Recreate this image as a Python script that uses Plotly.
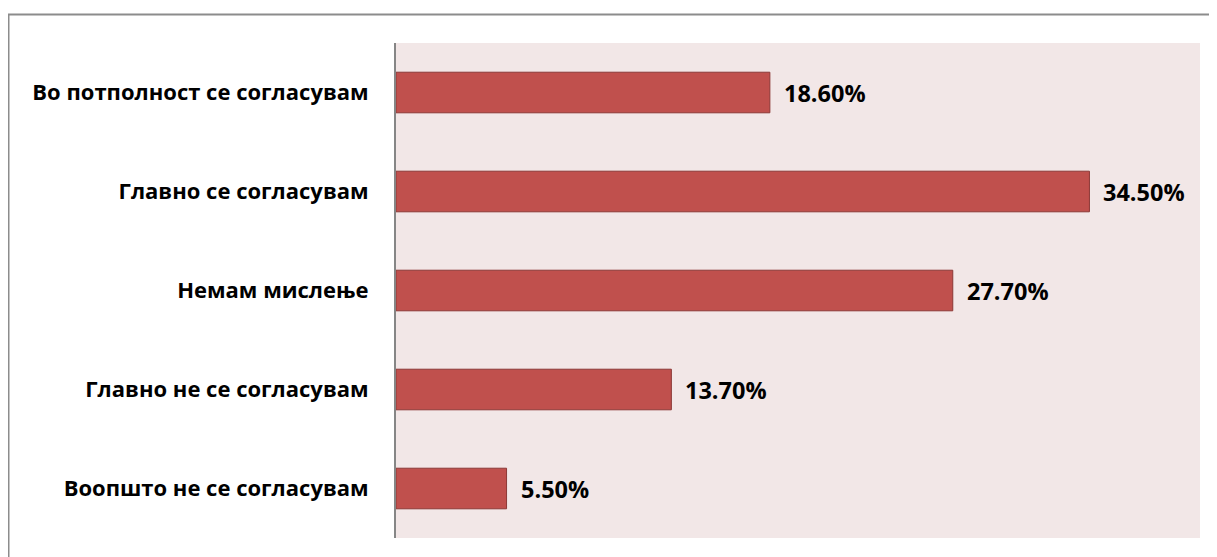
import plotly.graph_objects as go

categories = ["Во потполност се согласувам", "Главно се согласувам", "Немам мислење",
              "Главно не се согласувам", "Воопшто не се согласувам"]
values = [18.6, 34.5, 27.7, 13.7, 5.5]
value_labels = ["18.60%", "34.50%", "27.70%", "13.70%", "5.50%"]

# page body has an 8px default margin
OFF = 8
W, H = 1217 - OFF, 557 - OFF
L, T, R, B = 396 - OFF, 43 - OFF, 1200 - OFF, 538 - OFF
FONT = "'Open Sans', 'Noto Sans', sans-serif"

fig = go.Figure(go.Bar(
    y=categories, x=values, orientation="h",
    marker=dict(color="#C0504D", line=dict(color="#8C3836", width=1)),
    width=0.41, hoverinfo="skip",
))

for c, v, t in zip(categories, values, value_labels):
    fig.add_annotation(x=v, y=c, text=t, showarrow=False, xanchor="left", xshift=12,
                       font=dict(family=FONT, size=23.5, color="#000000", weight="bold"))

pw, ph = R - L, B - T
fig.add_shape(type="rect", xref="paper", yref="paper",
              x0=(8.5 - OFF - L) / pw, x1=(1240 - L) / pw,
              y0=1 - (580 - T) / ph, y1=1 + (T - (14.5 - OFF)) / ph,
              line=dict(color="#8C8C8C", width=2), layer="below")

fig.update_layout(
    width=W, height=H,
    margin=dict(l=L, r=W - R, t=T, b=H - B, pad=0),
    paper_bgcolor="#FFFFFF", plot_bgcolor="#F2E7E7",
    showlegend=False,
    font=dict(family=FONT, color="#000000"),
    xaxis=dict(range=[0, 40], showticklabels=False, showgrid=False, zeroline=False,
               showline=False, ticks=""),
    yaxis=dict(autorange="reversed", showgrid=False, zeroline=False,
               showline=True, linecolor="#868686", linewidth=2, ticks="",
               ticklabelstandoff=21,
               tickfont=dict(size=22, family=FONT, weight="bold")),
)
fig.write_html("out.html")
